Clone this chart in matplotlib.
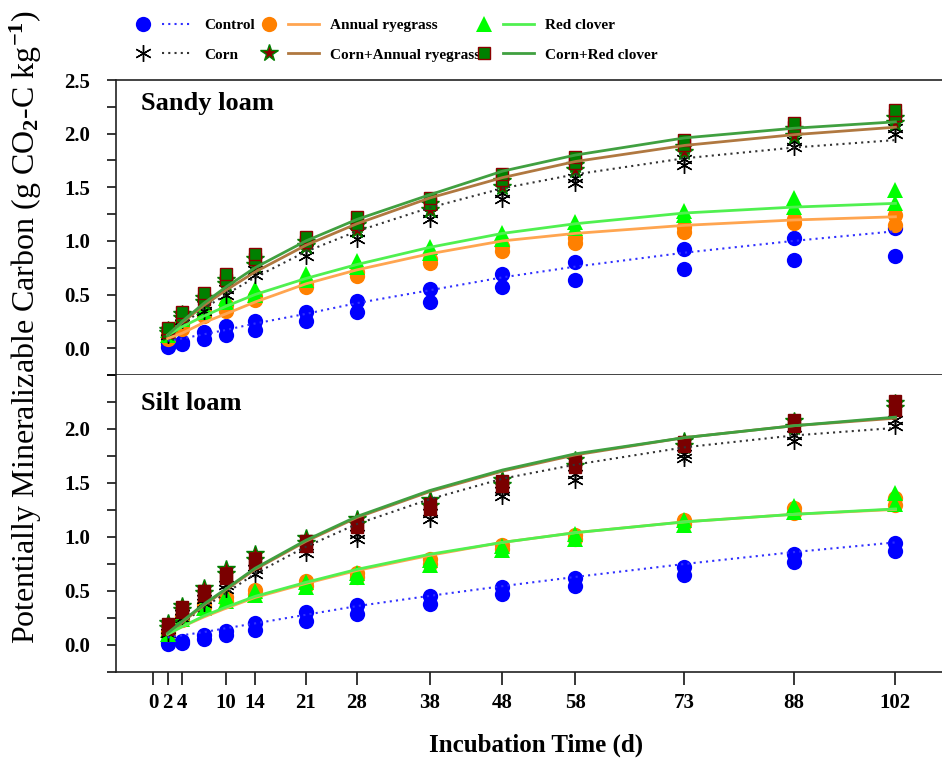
import matplotlib.pyplot as plt
from matplotlib.lines import Line2D
from matplotlib.legend_handler import HandlerTuple
from matplotlib.ticker import MultipleLocator

plt.rcParams['font.family'] = ['Liberation Serif', 'DejaVu Serif']
plt.rcParams['font.weight'] = 'bold'
plt.rcParams['mathtext.fontset'] = 'custom'
plt.rcParams['mathtext.rm'] = 'Liberation Serif'
plt.rcParams['mathtext.it'] = 'Liberation Serif:italic'
plt.rcParams['mathtext.bf'] = 'Liberation Serif:bold'
plt.rcParams['mathtext.default'] = 'rm'

# incubation days
days = [2, 4, 7, 10, 14, 21, 28, 38, 48, 58, 73, 88, 102]
day_ticks = [0, 2, 4, 10, 14, 21, 28, 38, 48, 58, 73, 88, 102]

treatments = ['Control', 'Corn', 'Annual ryegrass', 'Corn+Annual ryegrass',
              'Red clover', 'Corn+Red clover']

# ---- Sandy loam: two replicates + fitted curve read at each day
sandy_control_a = [0.05, 0.06, 0.15, 0.21, 0.25, 0.34, 0.44, 0.55, 0.69, 0.80, 0.92, 1.03, 1.12]
sandy_control_b = [0.01, 0.04, 0.09, 0.12, 0.17, 0.25, 0.34, 0.43, 0.57, 0.64, 0.74, 0.82, 0.86]
sandy_control_fit = [0.07, 0.09, 0.13, 0.17, 0.23, 0.32, 0.42, 0.54, 0.66, 0.76, 0.89, 1.00, 1.09]

sandy_corn_a = [0.16, 0.30, 0.40, 0.55, 0.73, 0.92, 1.08, 1.26, 1.45, 1.59, 1.76, 1.93, 2.05]
sandy_corn_b = [0.12, 0.26, 0.35, 0.50, 0.68, 0.86, 1.02, 1.20, 1.39, 1.54, 1.71, 1.88, 2.00]
sandy_corn_fit = [0.11, 0.22, 0.37, 0.50, 0.66, 0.90, 1.09, 1.31, 1.49, 1.62, 1.77, 1.87, 1.94]

sandy_ar_a = [0.12, 0.22, 0.35, 0.40, 0.49, 0.60, 0.71, 0.83, 0.95, 1.03, 1.13, 1.20, 1.24]
sandy_ar_b = [0.09, 0.18, 0.30, 0.35, 0.45, 0.57, 0.67, 0.79, 0.91, 0.98, 1.08, 1.17, 1.15]
sandy_ar_fit = [0.09, 0.14, 0.24, 0.32, 0.43, 0.60, 0.73, 0.88, 1.00, 1.07, 1.145, 1.195, 1.225]

sandy_car_a = [0.17, 0.32, 0.47, 0.64, 0.83, 0.99, 1.15, 1.34, 1.56, 1.71, 1.88, 2.04, 2.15]
sandy_car_b = [0.14, 0.28, 0.43, 0.60, 0.78, 0.95, 1.10, 1.29, 1.50, 1.66, 1.83, 1.98, 2.10]
sandy_car_fit = [0.12, 0.24, 0.40, 0.54, 0.71, 0.96, 1.16, 1.40, 1.59, 1.74, 1.89, 1.99, 2.06]

sandy_rc_a = [0.17, 0.31, 0.38, 0.47, 0.55, 0.69, 0.81, 0.94, 1.07, 1.18, 1.28, 1.40, 1.47]
sandy_rc_b = [0.12, 0.27, 0.34, 0.43, 0.50, 0.64, 0.76, 0.89, 1.02, 1.12, 1.24, 1.32, 1.35]
sandy_rc_fit = [0.12, 0.20, 0.30, 0.39, 0.50, 0.65, 0.78, 0.94, 1.07, 1.16, 1.26, 1.315, 1.35]

sandy_crc_a = [0.19, 0.34, 0.51, 0.69, 0.88, 1.04, 1.22, 1.40, 1.62, 1.78, 1.94, 2.10, 2.22]
sandy_crc_b = [0.15, 0.30, 0.46, 0.64, 0.83, 0.99, 1.16, 1.34, 1.57, 1.73, 1.89, 2.06, 2.17]
sandy_crc_fit = [0.12, 0.25, 0.42, 0.57, 0.75, 1.00, 1.20, 1.43, 1.65, 1.80, 1.96, 2.05, 2.11]

# ---- Silt loam
silt_control_a = [0.03, 0.04, 0.09, 0.13, 0.20, 0.31, 0.37, 0.45, 0.54, 0.62, 0.72, 0.84, 0.94]
silt_control_b = [0.01, 0.02, 0.06, 0.09, 0.14, 0.22, 0.29, 0.38, 0.47, 0.55, 0.65, 0.77, 0.87]
silt_control_fit = [0.07, 0.09, 0.12, 0.155, 0.20, 0.28, 0.36, 0.455, 0.545, 0.63, 0.75, 0.86, 0.95]

silt_corn_a = [0.15, 0.29, 0.43, 0.56, 0.70, 0.90, 1.03, 1.22, 1.43, 1.58, 1.77, 1.94, 2.08]
silt_corn_b = [0.11, 0.25, 0.39, 0.52, 0.66, 0.85, 0.98, 1.17, 1.38, 1.53, 1.73, 1.89, 2.03]
silt_corn_fit = [0.10, 0.20, 0.35, 0.48, 0.66, 0.91, 1.12, 1.35, 1.54, 1.67, 1.83, 1.94, 2.01]

silt_ar_a = [0.12, 0.27, 0.38, 0.44, 0.51, 0.59, 0.67, 0.80, 0.93, 1.02, 1.16, 1.27, 1.36]
silt_ar_b = [0.10, 0.23, 0.35, 0.41, 0.47, 0.55, 0.63, 0.75, 0.89, 0.98, 1.12, 1.22, 1.30]
silt_ar_fit = [0.10, 0.17, 0.26, 0.34, 0.44, 0.57, 0.69, 0.83, 0.95, 1.04, 1.14, 1.21, 1.255]

silt_car_a = [0.20, 0.36, 0.53, 0.70, 0.84, 0.99, 1.17, 1.34, 1.53, 1.71, 1.89, 2.07, 2.24]
silt_car_b = [0.16, 0.32, 0.48, 0.66, 0.79, 0.94, 1.12, 1.29, 1.48, 1.66, 1.84, 2.02, 2.19]
silt_car_fit = [0.10, 0.21, 0.37, 0.51, 0.70, 0.96, 1.18, 1.42, 1.61, 1.76, 1.92, 2.03, 2.10]

silt_rc_a = [0.14, 0.28, 0.38, 0.45, 0.50, 0.58, 0.67, 0.79, 0.92, 1.03, 1.16, 1.29, 1.41]
silt_rc_b = [0.10, 0.24, 0.34, 0.41, 0.46, 0.54, 0.63, 0.74, 0.88, 0.98, 1.11, 1.23, 1.31]
silt_rc_fit = [0.10, 0.17, 0.27, 0.35, 0.45, 0.58, 0.70, 0.84, 0.95, 1.04, 1.14, 1.21, 1.26]

silt_crc_a = [0.19, 0.35, 0.50, 0.66, 0.80, 0.96, 1.13, 1.31, 1.52, 1.70, 1.88, 2.08, 2.26]
silt_crc_b = [0.15, 0.31, 0.46, 0.62, 0.76, 0.92, 1.09, 1.26, 1.47, 1.65, 1.84, 2.03, 2.18]
silt_crc_fit = [0.11, 0.22, 0.38, 0.52, 0.71, 0.97, 1.19, 1.43, 1.62, 1.77, 1.92, 2.03, 2.11]

sandy = {
    'Control': (sandy_control_a, sandy_control_b, sandy_control_fit),
    'Corn': (sandy_corn_a, sandy_corn_b, sandy_corn_fit),
    'Annual ryegrass': (sandy_ar_a, sandy_ar_b, sandy_ar_fit),
    'Corn+Annual ryegrass': (sandy_car_a, sandy_car_b, sandy_car_fit),
    'Red clover': (sandy_rc_a, sandy_rc_b, sandy_rc_fit),
    'Corn+Red clover': (sandy_crc_a, sandy_crc_b, sandy_crc_fit),
}
silt = {
    'Control': (silt_control_a, silt_control_b, silt_control_fit),
    'Corn': (silt_corn_a, silt_corn_b, silt_corn_fit),
    'Annual ryegrass': (silt_ar_a, silt_ar_b, silt_ar_fit),
    'Corn+Annual ryegrass': (silt_car_a, silt_car_b, silt_car_fit),
    'Red clover': (silt_rc_a, silt_rc_b, silt_rc_fit),
    'Corn+Red clover': (silt_crc_a, silt_crc_b, silt_crc_fit),
}

# marker / line styles
mstyle = {
    'Control': dict(marker='o', ms=11, mfc='#0000FF', mec='#0000FF', mew=0),
    'Corn': dict(marker=(6, 2, 0), ms=12, mfc='k', mec='k', mew=1.0),
    'Annual ryegrass': dict(marker='o', ms=11, mfc='#FF8000', mec='#FF8000', mew=0),
    'Corn+Annual ryegrass': dict(marker='*', ms=13, mfc='#8B0000', mec='#008000', mew=1.0),
    'Red clover': dict(marker='^', ms=11, mfc='#00FF00', mec='#00FF00', mew=0),
    'Corn+Red clover': dict(marker='s', ms=9, mfc='#008000', mec='#8B0000', mew=1.0),
}
lstyle = {
    'Control': dict(color='#3030FF', ls=(0, (1, 2)), lw=1.5),
    'Corn': dict(color='#333333', ls=(0, (1, 2)), lw=1.5),
    'Annual ryegrass': dict(color='#FFA550', ls='-', lw=2.0),
    'Corn+Annual ryegrass': dict(color='#B07840', ls='-', lw=2.0),
    'Red clover': dict(color='#50F050', ls='-', lw=2.0),
    'Corn+Red clover': dict(color='#40A040', ls='-', lw=2.0),
}
marker_order = ['Control', 'Annual ryegrass', 'Red clover', 'Corn',
                'Corn+Annual ryegrass', 'Corn+Red clover']

fig = plt.figure(figsize=(9.42, 7.61), dpi=100)
ax_top = fig.add_axes([116 / 942, 1 - 375 / 761, 1 - 116 / 942, 295 / 761])
ax_bot = fig.add_axes([116 / 942, 1 - 672 / 761, 1 - 116 / 942, 297 / 761])


def draw_panel(ax, data, square_face):
    for i, name in enumerate(marker_order):
        a, b, fit = data[name]
        st = dict(mstyle[name])
        if name == 'Corn+Red clover' and square_face is not None:
            st['mfc'] = square_face
            st['mec'] = square_face
        ax.plot(days, b, ls='none', zorder=2 + i, **st)
        ax.plot(days, a, ls='none', zorder=2 + i, **st)
    for name in treatments:
        fit = data[name][2]
        ax.plot(days, fit, zorder=10, **lstyle[name])

    ax.set_xlim(-5.1, 108.4)
    ax.set_ylim(-0.25, 2.5)
    ax.set_xticks(day_ticks)
    ax.yaxis.set_major_locator(MultipleLocator(0.5))
    ax.yaxis.set_minor_locator(MultipleLocator(0.25))
    ax.yaxis.set_major_formatter(plt.FormatStrFormatter('%.1f'))
    ax.tick_params(axis='y', which='both', direction='out', length=6.5, width=1.1,
                   labelsize=15, pad=12)
    ax.tick_params(axis='x', direction='out', length=9, width=1.1, labelsize=15, pad=6)
    ax.spines['right'].set_visible(False)
    for s in ['left', 'top', 'bottom']:
        ax.spines[s].set_linewidth(1.2)
        ax.spines[s].set_color('#222222')


draw_panel(ax_top, sandy, None)
draw_panel(ax_bot, silt, '#7A0000')

ax_top.tick_params(axis='x', labelbottom=False)
ax_bot.spines['top'].set_visible(False)
ax_bot.set_yticks([0.0, 0.5, 1.0, 1.5, 2.0])

ax_top.text(0.03, 0.92, 'Sandy loam', transform=ax_top.transAxes, fontsize=19,
            fontweight='bold', va='center', ha='left')
ax_bot.text(0.03, 0.905, 'Silt loam', transform=ax_bot.transAxes, fontsize=19,
            fontweight='bold', va='center', ha='left')

fig.text(0.027, 0.570, 'Potentially Mineralizable Carbon (g CO$_2$-C kg$^{-1}$)',
         rotation=90, fontsize=23, fontweight='normal', ha='center', va='center')
fig.text(0.569, 0.021, 'Incubation Time (d)', fontsize=18, fontweight='bold',
         ha='center', va='center')

# legend: three columns of two entries each
columns = [['Control', 'Corn'], ['Annual ryegrass', 'Corn+Annual ryegrass'],
           ['Red clover', 'Corn+Red clover']]
col_x = [127.5, 253.5, 468.5]
for names, x0 in zip(columns, col_x):
    handles = []
    for name in names:
        mk = Line2D([], [], ls='none', **mstyle[name])
        ln = Line2D([], [], **lstyle[name])
        handles.append((mk, ln))
    fig.legend(handles, names, loc='upper left', bbox_to_anchor=(x0 / 942, 0.976),
               frameon=False, borderpad=0, borderaxespad=0,
               handlelength=4.3, handletextpad=0.72, labelspacing=1.05,
               handler_map={tuple: HandlerTuple(ndivide=None, pad=0.23)},
               prop={'weight': 'bold', 'size': 11})

fig.savefig('out.png', dpi=100)
